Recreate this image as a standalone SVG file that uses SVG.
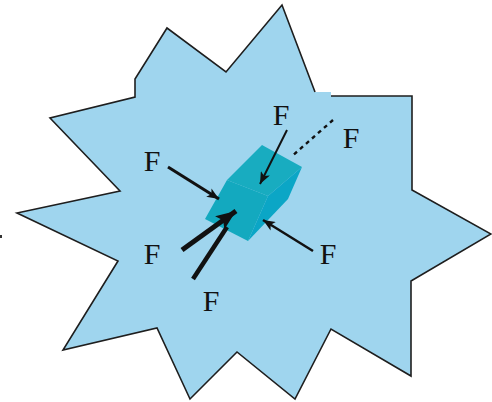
<svg xmlns="http://www.w3.org/2000/svg" width="492" height="402" viewBox="0 0 492 402">
<defs>
<style>
.lbl{font-family:"Liberation Serif","Times New Roman",serif;font-size:30px;fill:#111;text-anchor:middle}
.arr{stroke:#111;fill:none;stroke-linecap:butt}
</style>
<marker id="hs" viewBox="0 0 12 10" refX="12" refY="5" markerWidth="13" markerHeight="10" markerUnits="userSpaceOnUse" orient="auto">
<path d="M0,0 L12,5 L0,10 L3,5 Z" fill="#111"/>
</marker>
<marker id="hb" viewBox="0 0 20 16" refX="20" refY="8" markerWidth="22" markerHeight="16" markerUnits="userSpaceOnUse" orient="auto">
<path d="M0,0 L20,8 L0,16 L4,8 Z" fill="#111"/>
</marker>
</defs>
<rect width="492" height="402" fill="#fff"/>
<g id="body">
<polygon points="167,28 226,72 282,5 315,92 331,92 331,96 412,96 412,190 491,234 411,281 411,376 331,329 295,399 237,352 190,399 157,328 63,350 118,261 17,213 120,191 50,118 135,97 135,79" fill="#9fd5ee"/>
<polyline points="331,96 412,96 412,190 491,234 411,281 411,376 331,329 295,399 237,352 190,399 157,328 63,350 118,261 17,213 120,191 50,118 135,97 135,79 167,28 226,72 282,5 315,92" fill="none" stroke="#1e1e1e" stroke-width="1.6" stroke-linejoin="miter"/>
<rect x="0" y="235" width="2" height="3" fill="#333"/>
</g>
<g id="block">
<polygon points="227,180 262,145 302,167 268,196" fill="#18acc0"/>
<polygon points="227,180 268,196 248,241 205,219" fill="#13a9bf"/>
<polygon points="268,196 302,167 288,199 248,241" fill="#0ba6c6"/>
</g>
<g id="connectors">
<line class="arr" x1="287" y1="130" x2="260" y2="184" stroke-width="2" marker-end="url(#hs)"/>
<line class="arr" x1="333" y1="120" x2="291" y2="157" stroke-width="2.4" stroke-dasharray="4,4"/>
<line class="arr" x1="168" y1="167" x2="219" y2="199" stroke-width="3" marker-end="url(#hs)"/>
<line class="arr" x1="193" y1="279" x2="227" y2="227" stroke-width="4.5"/>
<line class="arr" x1="182" y1="250" x2="236" y2="211" stroke-width="5" marker-end="url(#hb)"/>
<line class="arr" x1="313" y1="251" x2="263" y2="220" stroke-width="2.5" marker-end="url(#hs)"/>
</g>
<g id="labels">
<text class="lbl" x="281" y="125">F</text>
<text class="lbl" x="351" y="148">F</text>
<text class="lbl" x="152" y="171">F</text>
<text class="lbl" x="152" y="264">F</text>
<text class="lbl" x="211" y="311">F</text>
<text class="lbl" x="328" y="264">F</text>
</g>
</svg>
